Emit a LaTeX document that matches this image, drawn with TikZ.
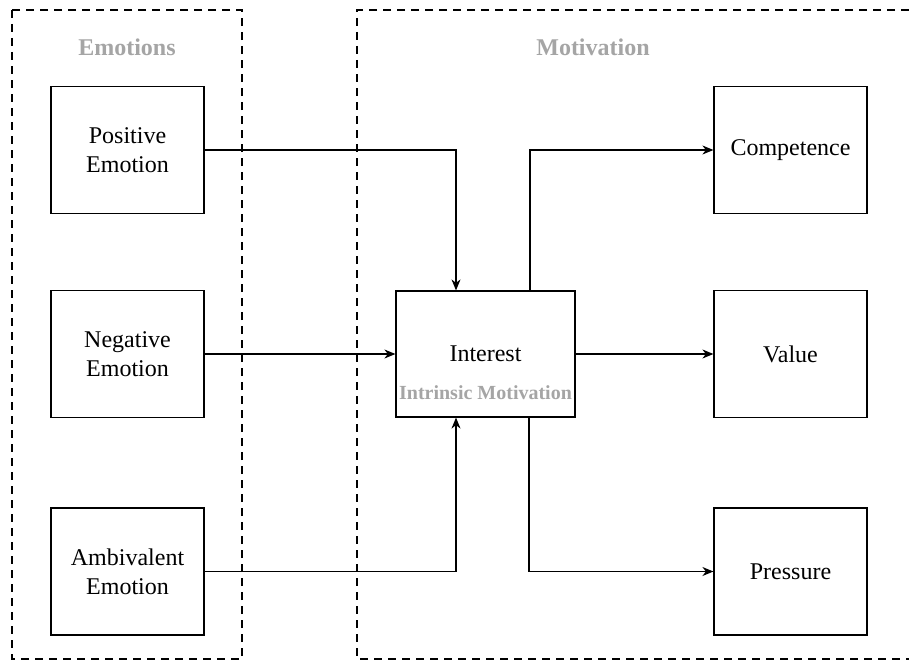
\documentclass[tikz,border=0pt]{standalone}
\usepackage{fontspec}
\setmainfont{Liberation Serif}
\usetikzlibrary{arrows.meta}
\definecolor{titlegray}{RGB}{165,165,165}
\begin{document}
\begin{tikzpicture}[x=1pt,y=-1pt,
  box/.style={draw,line width=1.2pt,minimum width=153pt,minimum height=127pt,inner sep=0pt,align=center,
    font=\fontsize{24}{29}\selectfont},
  grp/.style={draw,line width=1.1pt,dash pattern=on 8pt off 6pt},
  ttl/.style={font=\fontsize{24}{29}\selectfont\bfseries,text=titlegray,inner sep=0pt},
  arr/.style={line width=1.2pt,-{Stealth[length=11pt,width=9pt,inset=3.5pt]}},
  plain/.style={inner sep=0pt,font=\fontsize{24}{29}\selectfont}]
\useasboundingbox (0,0) rectangle (909,661);
\fill[white] (0,0) rectangle (909,661);
% group frames
\draw[grp] (12,10) rectangle (242,659);
\draw[grp] (909,10) -- (357,10) -- (357,659) -- (909,659);
\node[ttl] (temo) at (127,47) {Emotions};
\node[ttl] (tmot) at (593,47) {Motivation};
% left boxes
\node[box] (pos) at (127.5,150) {Positive\\Emotion};
\node[box] (neg) at (127.5,354) {Negative\\Emotion};
\node[box] (amb) at (127.5,571.5) {Ambivalent\\Emotion};
% interest
\node[draw,line width=1.2pt,minimum width=179pt,minimum height=126pt,inner sep=0pt] (int) at (485.5,354) {};
\node[plain] (intt) at (485.5,354) {Interest};
\node[ttl,font=\fontsize{20}{24}\selectfont\bfseries] (ints) at (485.5,393) {Intrinsic Motivation};
% right boxes
\node[box] (comp) at (790.5,150) {Competence};
\node[box] (val) at (790.5,354) {Value};
\node[box] (pres) at (790.5,571.5) {Pressure};
% connectors
\draw[arr] (pos.east) -| ([xshift=-29.5pt]int.north);
\draw[arr] (neg.east) -- (int.west);
\draw[arr] (amb.east) -| ([xshift=-29.5pt]int.south);
\draw[arr] ([xshift=44.5pt]int.north) |- (comp.west);
\draw[arr] (int.east) -- (val.west);
\draw[arr] ([xshift=43.5pt]int.south) |- (pres.west);
\end{tikzpicture}
\end{document}
